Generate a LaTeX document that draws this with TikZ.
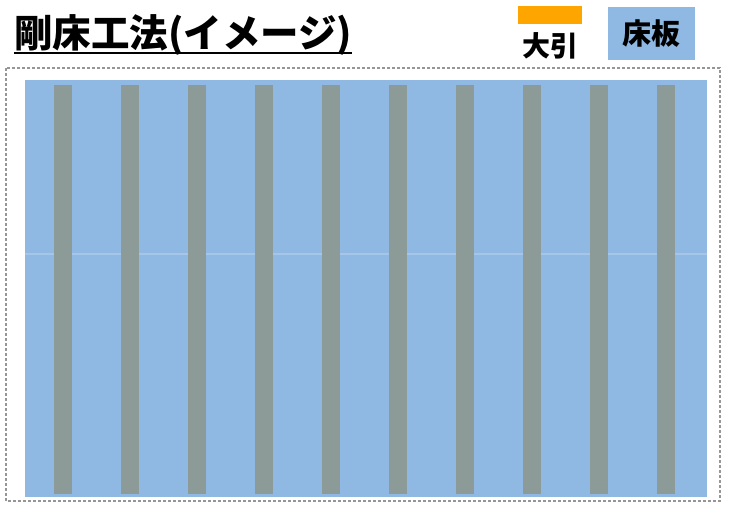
\documentclass[tikz,border=0pt]{standalone}
\usepackage{fontspec}
\newfontfamily\jpfont{Noto Sans CJK JP}
\usetikzlibrary{positioning}

\definecolor{floorblue}{RGB}{143,184,226}
\definecolor{joistgrey}{RGB}{140,155,151}
\definecolor{beamorange}{RGB}{255,165,0}
\definecolor{frameline}{RGB}{150,150,150}

\tikzset{
	joist/.style={fill=joistgrey},
	jptext/.style={font=\jpfont\bfseries, inner sep=0pt}
}

\begin{document}
\begin{tikzpicture}[x=1pt,y=-1pt]

		\useasboundingbox (0,0) rectangle (730,511);
		
		% title
		\node [jptext, font=\jpfont\bfseries\fontsize{38.5}{38.5}\selectfont, anchor=base west] (title) at (14,48) {剛床工法(イメージ)};
		\draw [line width=2pt] ([yshift=-5pt]title.base west) -- ([yshift=-5pt]title.base east);
		
		% legend
		\fill [beamorange] (518,6) rectangle (582,24);
		\node [jptext, font=\jpfont\bfseries\fontsize{28}{28}\selectfont] (ohbiki) at (550,46) {大引};
		\node [fill=floorblue, minimum width=87pt, minimum height=53pt, inner sep=0pt] (yukaita) at (651.5,33.5) {};
		\node [jptext, font=\jpfont\bfseries\fontsize{29}{29}\selectfont] at (yukaita) {床板};
		
		% frame
		\draw [frameline, dash pattern=on 3pt off 2pt, line width=1.2pt] (6,68) rectangle (720,501);
		
		% floor boards
		\fill [floorblue] (25,80) rectangle (707,497);
		\draw [white, opacity=0.2, line width=1.5pt] (25,254) -- (707,254);
		
		% joists
		\fill [joist] (54,85) rectangle (72,494);
		\fill [joist] (121,85) rectangle (139,494);
		\fill [joist] (188,85) rectangle (206,494);
		\fill [joist] (255,85) rectangle (273,494);
		\fill [joist] (322,85) rectangle (340,494);
		\fill [joist] (389,85) rectangle (407,494);
		\fill [joist] (456,85) rectangle (474,494);
		\fill [joist] (523,85) rectangle (541,494);
		\fill [joist] (590,85) rectangle (608,494);
		\fill [joist] (657,85) rectangle (675,494);
		
\end{tikzpicture}
\end{document}
